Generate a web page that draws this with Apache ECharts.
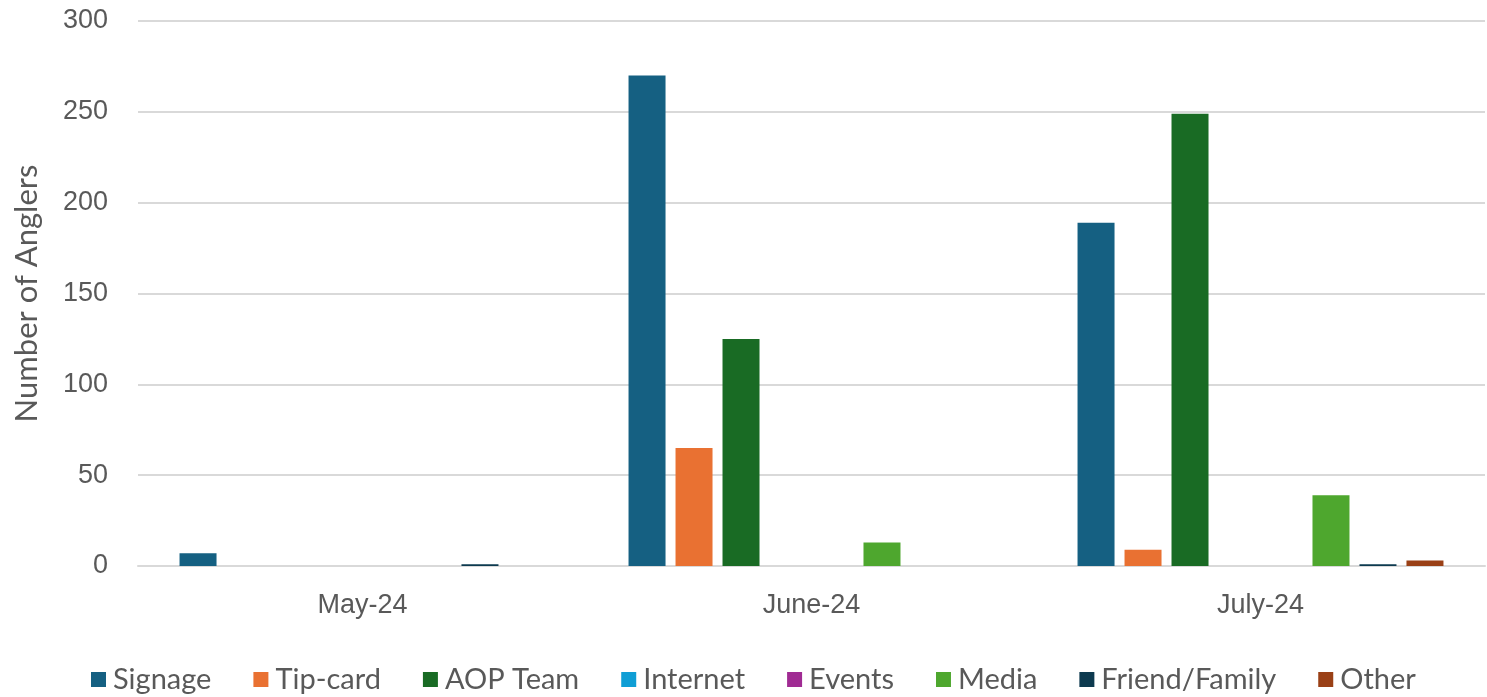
<!DOCTYPE html>
<html>
<head>
<meta charset="utf-8">
<script src="https://cdn.jsdelivr.net/npm/echarts@6/dist/echarts.min.js"></script>
<style>html,body{margin:0;padding:0;background:#fff}#c{width:1487px;height:697px}</style>
</head>
<body>
<div id="c"></div>
<script>
const categories = ["May-24", "June-24", "July-24"];
const seriesNames = ["Signage", "Tip-card", "AOP Team", "Internet", "Events", "Media", "Friend/Family", "Other"];
const signage = [7, 270, 189];
const tipCard = [0, 65, 9];
const aopTeam = [0, 125, 249];
const internet = [0, 0, 0];
const events = [0, 0, 0];
const media = [0, 13, 39];
const friendFamily = [1, 0, 1];
const other = [0, 0, 3];
const yTicks = [0, 50, 100, 150, 200, 250, 300];

const values = [signage, tipCard, aopTeam, internet, events, media, friendFamily, other];
const colors = ["#156082", "#E97132", "#196B24", "#0F9ED5", "#A02B93", "#4EA72E", "#0D3A4F", "#9A4016"];

const chart = echarts.init(document.getElementById('c'));
chart.setOption({
  animation: false,
  color: colors,
  grid: {left: 138, right: 2, top: 21, bottom: 131, containLabel: false},
  legend: {
    top: 660, left: 86,
    itemWidth: 15, itemHeight: 15, itemGap: 42,
    icon: 'rect',
    textStyle: {fontFamily: 'Lato', fontSize: 29, color: '#595959', padding: [0, 0, 0, 2]},
    data: seriesNames
  },
  xAxis: {
    type: 'category', data: categories,
    axisLine: {lineStyle: {color: '#d9d9d9', width: 2}},
    axisTick: {show: false},
    axisLabel: {fontFamily: 'Liberation Sans', fontSize: 27, color: '#595959', margin: 26}
  },
  yAxis: {
    type: 'value', min: yTicks[0], max: yTicks[yTicks.length - 1], interval: 50,
    name: 'Number of Anglers', nameLocation: 'middle', nameGap: 96,
    nameTextStyle: {fontFamily: 'Lato', fontSize: 31, color: '#595959'},
    axisLine: {show: false}, axisTick: {show: false},
    axisLabel: {fontFamily: 'Liberation Sans', fontSize: 27, color: '#595959', margin: 30},
    splitLine: {lineStyle: {color: '#d9d9d9', width: 2}}
  },
  series: seriesNames.map((n, i) => ({
    name: n, type: 'bar', data: values[i],
    barWidth: 37, barGap: '27%',
    itemStyle: {color: colors[i]}
  }))
});
</script>
</body>
</html>
